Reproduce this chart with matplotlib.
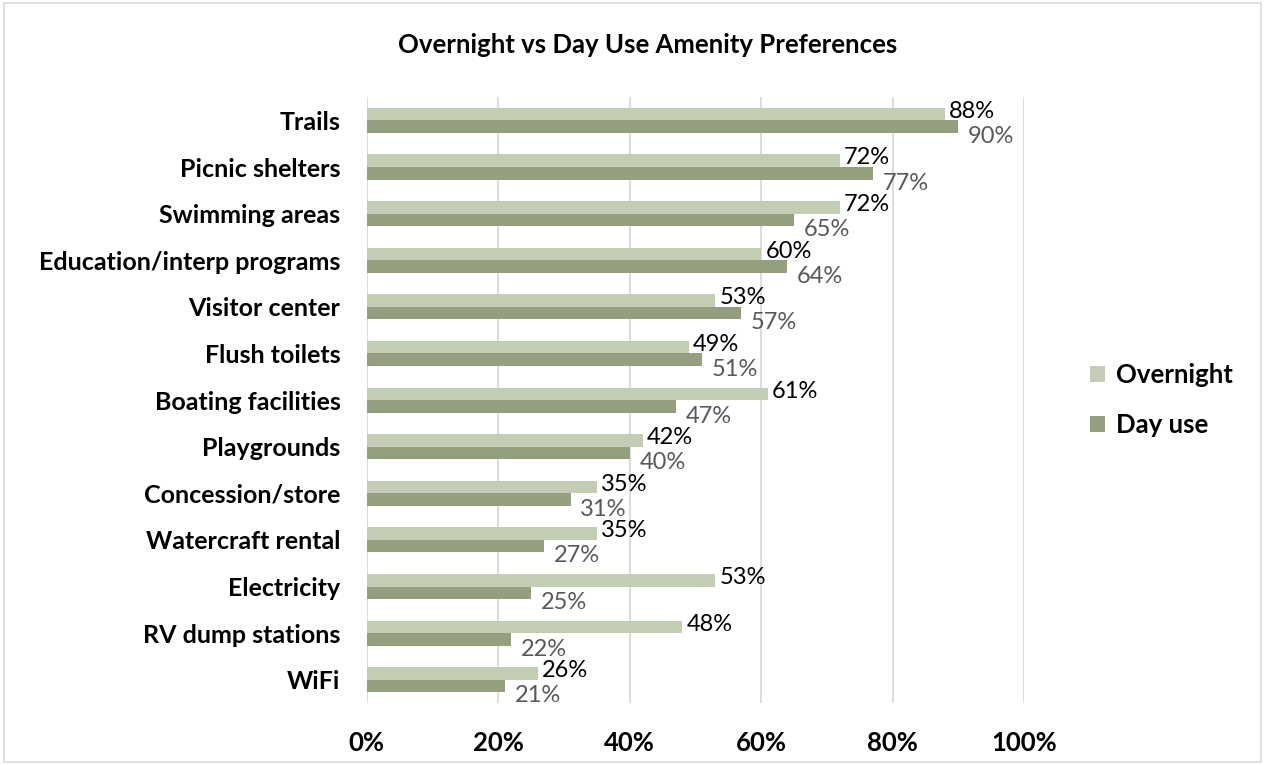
import numpy as np
import matplotlib.pyplot as plt
from matplotlib.patches import Rectangle
from matplotlib.transforms import offset_copy

plt.rcParams['font.family'] = ['Lato', 'DejaVu Sans']

# Amenity categories, top to bottom
categories = ['Trails', 'Picnic shelters', 'Swimming areas', 'Education/interp programs',
              'Visitor center', 'Flush toilets', 'Boating facilities', 'Playgrounds',
              'Concession/store', 'Watercraft rental', 'Electricity', 'RV dump stations', 'WiFi']
overnight = [88, 72, 72, 60, 53, 49, 61, 42, 35, 35, 53, 48, 26]
day_use = [90, 77, 65, 64, 57, 51, 47, 40, 31, 27, 25, 22, 21]
x_ticks = [0, 20, 40, 60, 80, 100]

c_over = '#C3CCB4'
c_day = '#939F7F'

fig = plt.figure(figsize=(12.65, 7.65), dpi=100)
ax = fig.add_axes([0.290, 0.081, 0.5195, 0.792])

y = np.arange(len(categories))
h = 0.27
ax.barh(y - h / 2, overnight, height=h, color=c_over, label='Overnight', zorder=3)
ax.barh(y + h / 2, day_use, height=h, color=c_day, label='Day use', zorder=3)

ax.set_ylim(len(categories) - 0.5, -0.5)
ax.set_xlim(0, 100)
ax.set_xticks(x_ticks)
ax.set_xticklabels([f'{t}%' for t in x_ticks], fontsize=18.5, fontweight='bold')
ax.tick_params(axis='x', length=0, pad=20)
ax.set_yticks(y)
ax.set_yticklabels(categories, fontsize=18, fontweight='bold')
ax.tick_params(axis='y', length=0, pad=19)
ax.grid(axis='x', color='#D9D9D9', lw=1.3, zorder=0)
for s in ax.spines.values():
    s.set_visible(False)

# value labels, shifted a bit like the original
for i in range(len(categories)):
    tr = offset_copy(ax.transData, fig=fig, x=3, y=2, units='points')
    ax.text(overnight[i], y[i] - h / 2, f'{overnight[i]}%', transform=tr,
            fontsize=17, color='black', va='center', ha='left', zorder=5)
    tr2 = offset_copy(ax.transData, fig=fig, x=7, y=-7, units='points')
    ax.text(day_use[i], y[i] + h / 2, f'{day_use[i]}%', transform=tr2,
            fontsize=17, color='#595959', va='center', ha='left', zorder=5)

fig.text(0.512, 0.941, 'Overnight vs Day Use Amenity Preferences', ha='center', va='center',
         fontsize=18.5, fontweight='bold')

leg = ax.legend(loc='center left', bbox_to_anchor=(1.065, 0.5), frameon=False,
                prop={'size': 18.5, 'weight': 'bold'}, handlelength=0.6, handleheight=0.6,
                handletextpad=0.4, labelspacing=1.0)

fig.patches.append(Rectangle((0.003, 0.004), 0.994, 0.992, transform=fig.transFigure,
                             fill=False, edgecolor='#D9D9D9', lw=1.2))

fig.savefig('out.png', dpi=100)
